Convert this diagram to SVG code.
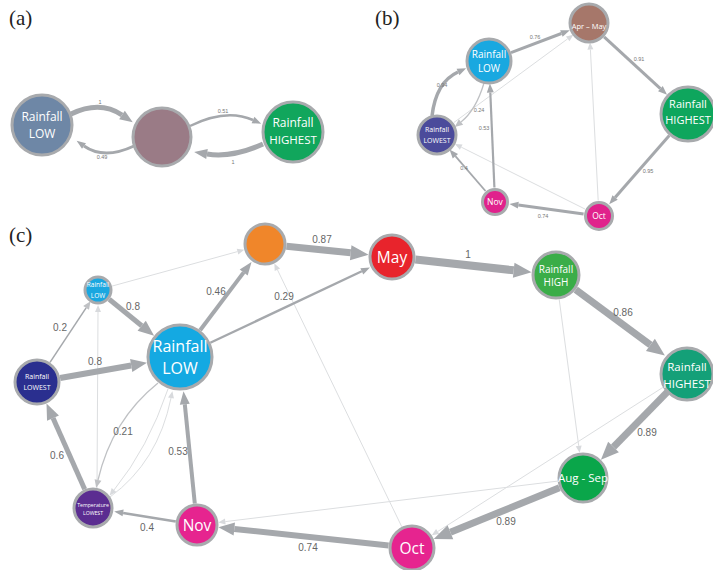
<svg xmlns="http://www.w3.org/2000/svg" width="713" height="570" viewBox="0 0 713 570">
<style>
.e{fill:none;stroke:#a5a8ac}
.f{fill:none;stroke:#dcdee0;stroke-width:1}
.t{fill:none;stroke:#bfc1c4;stroke-width:1.3}
.n{stroke:#a8aaad;stroke-width:3}
.nt{fill:#fff;font-family:"Open Sans","Noto Sans",sans-serif;text-anchor:middle}
.el{fill:#666;font-family:"Liberation Sans",Arial,sans-serif;font-size:10px;text-anchor:middle}
.es{fill:#777;font-family:"Liberation Sans",Arial,sans-serif;font-size:5.5px;text-anchor:middle}
.pl{fill:#222;font-family:"Liberation Serif","Times New Roman",serif;font-size:21px}
</style>
<defs>
<marker id="aXL" markerUnits="userSpaceOnUse" markerWidth="18" markerHeight="15" refX="0" refY="7.5" orient="auto" overflow="visible"><path d="M0,0 L18,7.5 L0,15 z" fill="#a5a8ac"/></marker>
<marker id="aL" markerUnits="userSpaceOnUse" markerWidth="16" markerHeight="13" refX="0" refY="6.5" orient="auto" overflow="visible"><path d="M0,0 L16,6.5 L0,13 z" fill="#a5a8ac"/></marker>
<marker id="aM" markerUnits="userSpaceOnUse" markerWidth="13" markerHeight="10" refX="0" refY="5" orient="auto" overflow="visible"><path d="M0,0 L13,5 L0,10 z" fill="#a5a8ac"/></marker>
<marker id="aS" markerUnits="userSpaceOnUse" markerWidth="9" markerHeight="7" refX="0" refY="3.5" orient="auto" overflow="visible"><path d="M0,0 L9,3.5 L0,7 z" fill="#a5a8ac"/></marker>
<marker id="aT" markerUnits="userSpaceOnUse" markerWidth="8" markerHeight="7" refX="0" refY="3.5" orient="auto" overflow="visible"><path d="M0,0 L8,3.5 L0,7 z" fill="#bfc1c4"/></marker>
<marker id="aF" markerUnits="userSpaceOnUse" markerWidth="7" markerHeight="6" refX="0" refY="3" orient="auto" overflow="visible"><path d="M0,0 L7,3 L0,6 z" fill="#d8dadd"/></marker>
</defs>

<text class="pl" x="9" y="25">(a)</text>
<text class="pl" x="375" y="25">(b)</text>
<text class="pl" x="9" y="242">(c)</text>

<!-- Panel (a) connectors -->
<g id="connectors-a">
<path class="e" d="M71,114 Q100,100 122,115" stroke-width="5" marker-end="url(#aM)"/>
<path class="e" d="M134,146 Q104,160 84,146" stroke-width="3" marker-end="url(#aS)"/>
<path class="e" d="M190,126 Q226,108 253,120" stroke-width="2.5" marker-end="url(#aS)"/>
<path class="e" d="M263,144 Q232,158 207,154" stroke-width="5" marker-end="url(#aM)"/>
<text class="es" x="100" y="104">1</text>
<text class="es" x="102" y="159">0.49</text>
<text class="es" x="223" y="113">0.51</text>
<text class="es" x="233" y="164">1</text>
</g>
<g id="a-rainfall-low">
<circle class="n" cx="42" cy="125" r="30" fill="#6e87a6"/>
<text class="nt" x="42" y="121" font-size="12">Rainfall</text>
<text class="nt" x="42" y="138" font-size="12">LOW</text>
</g>
<g id="a-middle">
<circle class="n" cx="162" cy="137" r="29" fill="#9a7b86"/>
</g>
<g id="a-rainfall-highest">
<circle class="n" cx="293" cy="132" r="30" fill="#11a65c"/>
<text class="nt" x="293" y="127" font-size="12">Rainfall</text>
<text class="nt" x="293" y="144" font-size="11.5">HIGHEST</text>
</g>

<!-- Panel (b) connectors -->
<g id="connectors-b">
<line class="f" x1="453.9" y1="122.5" x2="567.7" y2="38.8" marker-end="url(#aF)"/>
<line class="f" x1="598.2" y1="200.5" x2="590.4" y2="49.5" marker-end="url(#aF)"/>
<line class="f" x1="585.1" y1="209.1" x2="461.2" y2="147.1" marker-end="url(#aF)"/>
<line class="e" x1="511" y1="52.7" x2="561.4" y2="33.5" stroke-width="3" marker-end="url(#aS)"/>
<line class="e" x1="604.1" y1="36.9" x2="660.4" y2="88.6" stroke-width="3" marker-end="url(#aS)"/>
<line class="e" x1="669.3" y1="135.5" x2="615.1" y2="197.5" stroke-width="3" marker-end="url(#aS)"/>
<line class="e" x1="583.6" y1="213.9" x2="518.3" y2="205.1" stroke-width="3" marker-end="url(#aS)"/>
<line class="e" x1="485.5" y1="191" x2="455.4" y2="156.2" stroke-width="1.8" marker-end="url(#aS)"/>
<line class="e" x1="494.4" y1="187.5" x2="490.3" y2="92.5" stroke-width="2.2" marker-end="url(#aS)"/>
<path class="e" d="M432,116 Q436,82 458,72" stroke-width="3.5" marker-end="url(#aS)"/>
<path class="t" d="M484,83 Q476,110 461,122" marker-end="url(#aT)"/>
<text class="es" x="535" y="39">0.76</text>
<text class="es" x="639" y="61">0.91</text>
<text class="es" x="648" y="173">0.95</text>
<text class="es" x="543" y="218">0.74</text>
<text class="es" x="464" y="170">0.4</text>
<text class="es" x="484" y="130">0.53</text>
<text class="es" x="442" y="87">0.94</text>
<text class="es" x="479" y="112">0.24</text>
</g>
<g id="b-rainfall-low">
<circle class="n" cx="489" cy="61" r="22" fill="#19a8e0"/>
<text class="nt" x="489" y="58" font-size="10">Rainfall</text>
<text class="nt" x="489" y="72" font-size="10">LOW</text>
</g>
<g id="b-apr-may">
<circle class="n" cx="589" cy="23" r="19" fill="#a6776a"/>
<text class="nt" x="589" y="29" font-size="7.5">Apr – May</text>
</g>
<g id="b-rainfall-highest">
<circle class="n" cx="688" cy="114" r="27" fill="#0ea65d"/>
<text class="nt" x="688" y="108" font-size="11">Rainfall</text>
<text class="nt" x="688" y="124" font-size="11">HIGHEST</text>
</g>
<g id="b-rainfall-lowest">
<circle class="n" cx="437" cy="135" r="19" fill="#4b4b9b"/>
<text class="nt" x="437" y="132" font-size="7">Rainfall</text>
<text class="nt" x="437" y="142.5" font-size="7">LOWEST</text>
</g>
<g id="b-nov">
<circle class="n" cx="495" cy="202" r="12.5" fill="#e0228c"/>
<text class="nt" x="495" y="205" font-size="8.5">Nov</text>
</g>
<g id="b-oct">
<circle class="n" cx="599" cy="216" r="13.5" fill="#e0228c"/>
<text class="nt" x="599" y="219" font-size="8.5">Oct</text>
</g>

<!-- Panel (c) connectors -->
<g id="connectors-c">
<line class="f" x1="112" y1="286.1" x2="237.5" y2="251.6" marker-end="url(#aF)"/>
<line class="f" x1="401.8" y1="526.8" x2="277.4" y2="269.7" marker-end="url(#aF)"/>
<line class="f" x1="559.2" y1="299.3" x2="578.7" y2="445.8" marker-end="url(#aF)"/>
<line class="f" x1="663.8" y1="386.8" x2="437.7" y2="531.5" marker-end="url(#aF)"/>
<line class="f" x1="557.7" y1="481.1" x2="225.3" y2="521.6" marker-end="url(#aF)"/>
<line class="f" x1="97" y1="488" x2="98" y2="312" marker-end="url(#aF)"/>
<path class="f" d="M110,497 Q158,462 171,398" marker-end="url(#aF)"/>
<path class="f" d="M168,389 Q148,448 114,490" marker-end="url(#aF)"/>
<path class="t" d="M158,383 Q112,420 98,480" marker-end="url(#aT)"/>
<line class="e" x1="50" y1="362.4" x2="86.1" y2="307.9" stroke-width="1.5" marker-end="url(#aT)"/>
<line class="e" x1="60.1" y1="378" x2="131.2" y2="365.5" stroke-width="6" marker-end="url(#aL)"/>
<line class="e" x1="109.2" y1="299.2" x2="141.7" y2="325.7" stroke-width="5" marker-end="url(#aL)"/>
<line class="e" x1="200.1" y1="330.2" x2="243.7" y2="272.4" stroke-width="4" marker-end="url(#aM)"/>
<line class="e" x1="210.3" y1="342.7" x2="361.8" y2="271.3" stroke-width="2.3" marker-end="url(#aS)"/>
<line class="e" x1="286.4" y1="246.2" x2="350.7" y2="252.8" stroke-width="7" marker-end="url(#aXL)"/>
<line class="e" x1="415.4" y1="259.6" x2="513.7" y2="270.3" stroke-width="8" marker-end="url(#aXL)"/>
<line class="e" x1="575.7" y1="289.6" x2="650.4" y2="344.9" stroke-width="7" marker-end="url(#aXL)"/>
<line class="e" x1="667.7" y1="391.6" x2="613.5" y2="447" stroke-width="7" marker-end="url(#aXL)"/>
<line class="e" x1="559.4" y1="487.7" x2="450.4" y2="532.3" stroke-width="7" marker-end="url(#aXL)"/>
<line class="e" x1="388.6" y1="545.5" x2="234.3" y2="529" stroke-width="6" marker-end="url(#aL)"/>
<line class="e" x1="194.8" y1="503.6" x2="184.8" y2="404.2" stroke-width="4" marker-end="url(#aM)"/>
<line class="e" x1="175.8" y1="521.5" x2="123.1" y2="512.9" stroke-width="2.5" marker-end="url(#aS)"/>
<line class="e" x1="84.7" y1="489.3" x2="53" y2="418.1" stroke-width="5" marker-end="url(#aL)"/>
<text class="el" x="60" y="331">0.2</text>
<text class="el" x="95" y="365">0.8</text>
<text class="el" x="133" y="310">0.8</text>
<text class="el" x="216" y="295">0.46</text>
<text class="el" x="284" y="300">0.29</text>
<text class="el" x="322" y="243">0.87</text>
<text class="el" x="468" y="258">1</text>
<text class="el" x="623" y="316">0.86</text>
<text class="el" x="647" y="436">0.89</text>
<text class="el" x="506" y="525">0.89</text>
<text class="el" x="308" y="551">0.74</text>
<text class="el" x="178" y="455">0.53</text>
<text class="el" x="147" y="531">0.4</text>
<text class="el" x="57" y="459">0.6</text>
<text class="el" x="123" y="435">0.21</text>
</g>
<g id="c-orange">
<circle class="n" cx="265" cy="244" r="20" fill="#f0862a"/>
</g>
<g id="c-may">
<circle class="n" cx="392" cy="257" r="22" fill="#e8242c"/>
<text class="nt" x="392" y="263" font-size="15.5">May</text>
</g>
<g id="c-rainfall-high">
<circle class="n" cx="556" cy="275" r="23" fill="#3aad48"/>
<text class="nt" x="556" y="272.5" font-size="10">Rainfall</text>
<text class="nt" x="556" y="286" font-size="10">HIGH</text>
</g>
<g id="c-rainfall-highest">
<circle class="n" cx="687" cy="374" r="26" fill="#14a078"/>
<text class="nt" x="687" y="371" font-size="11.5">Rainfall</text>
<text class="nt" x="687" y="388" font-size="11.5">HIGHEST</text>
</g>
<g id="c-aug-sep">
<circle class="n" cx="583" cy="478" r="24" fill="#0aa64a"/>
<text class="nt" x="583" y="482" font-size="11.5">Aug - Sep</text>
</g>
<g id="c-oct">
<circle class="n" cx="412" cy="548" r="22" fill="#e6248f"/>
<text class="nt" x="412" y="554" font-size="15.5">Oct</text>
</g>
<g id="c-nov">
<circle class="n" cx="197" cy="525" r="20" fill="#e6248f"/>
<text class="nt" x="197" y="531" font-size="15.5">Nov</text>
</g>
<g id="c-temperature-lowest">
<circle class="n" cx="93" cy="508" r="19" fill="#5b2d91" stroke="#6d6e71"/>
<text class="nt" x="93" y="507" font-size="5.2">Temperature</text>
<text class="nt" x="93" y="514.5" font-size="5.2">LOWEST</text>
</g>
<g id="c-rainfall-lowest">
<circle class="n" cx="37" cy="382" r="22" fill="#2a2f8f" stroke="#5f6166"/>
<text class="nt" x="37" y="378.5" font-size="7">Rainfall</text>
<text class="nt" x="37" y="389.5" font-size="7">LOWEST</text>
</g>
<g id="c-rainfall-low-small">
<circle class="n" cx="98" cy="290" r="13" fill="#1aa7e0"/>
<text class="nt" x="98" y="287" font-size="6.5">Rainfall</text>
<text class="nt" x="98" y="297.5" font-size="6.5">LOW</text>
</g>
<g id="c-rainfall-low">
<circle class="n" cx="180" cy="357" r="32" fill="#14a9e2"/>
<text class="nt" x="180" y="352" font-size="16">Rainfall</text>
<text class="nt" x="180" y="374" font-size="16">LOW</text>
</g>
</svg>
